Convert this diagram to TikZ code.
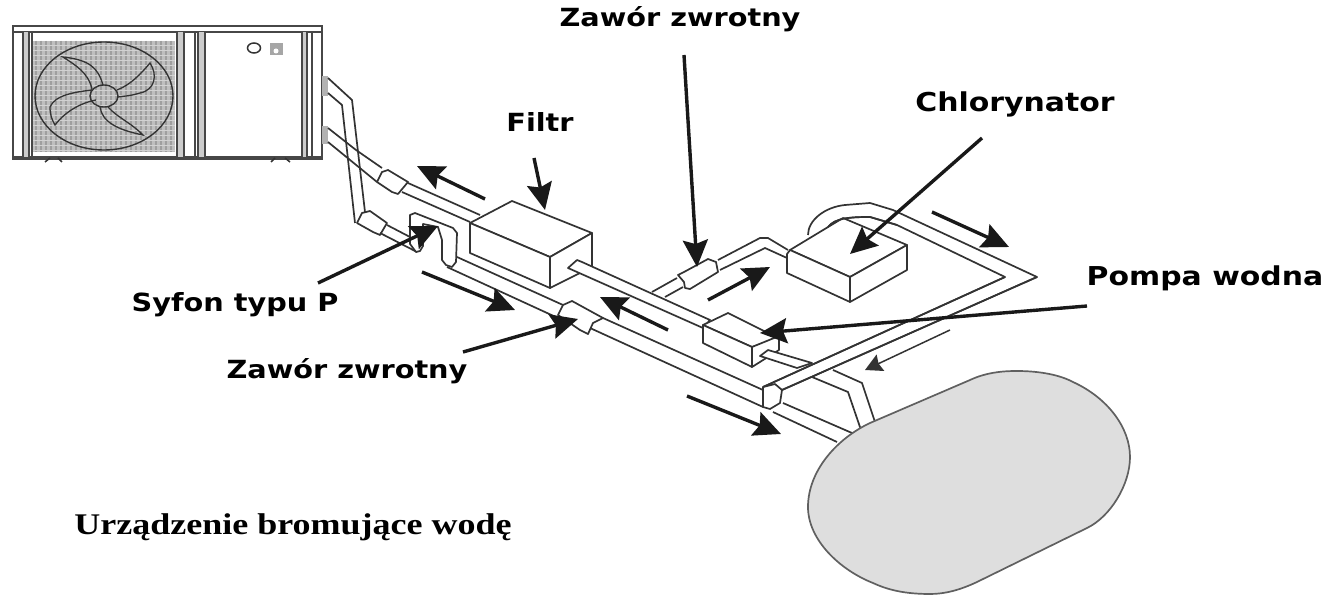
\documentclass[tikz,border=0pt]{standalone}
\usepackage{fontspec}
\usetikzlibrary{arrows.meta}
\newfontfamily\labfont[FakeStretch=1.15]{DejaVu Sans}
\newfontfamily\serfont[FakeStretch=1.2]{Liberation Serif}
\definecolor{ink}{HTML}{333333}
\tikzset{
  lab/.style={inner sep=0pt,text=black,font=\labfont\bfseries\fontsize{25}{27}\selectfont},
  labw/.style={inner sep=0pt,text=black,font=\labfont\bfseries\fontsize{26}{28}\selectfont},
  pipe/.style={draw=ink,line width=1.7pt,line join=round},
  fit0/.style={pipe,fill=white},
  unitline/.style={draw=ink!90,line width=1.7pt},
  leader/.style={draw=black!90,line width=3.4pt,-{Stealth[length=27pt,width=25pt,inset=4pt]}},
  thinleader/.style={draw=black!80,line width=1.5pt,-{Stealth[length=17pt,width=18pt,inset=2pt]}}
}
\begin{document}
\begin{tikzpicture}[x=1pt,y=-1pt]
\useasboundingbox (0,0) rectangle (1326,604);
% ---------- outdoor unit
\draw[unitline,fill=white] (13,26) rectangle (322,159);
\draw[unitline] (13,32)--(322,32);
\draw[unitline] (13,157)--(322,157);
\fill[gray!50] (33,41) rectangle (175,152);
\foreach \x in {36,41,...,175} \draw[gray!75,line width=1.2pt] (\x,41)--(\x,152);
\foreach \y in {45,50,...,150} \draw[gray!35,line width=.8pt] (33,\y)--(175,\y);
\fill[gray!40] (198,32) rectangle (205,157);
\fill[gray!40] (23,32) rectangle (29,157);
\fill[gray!40] (177,32) rectangle (184,157);
\fill[gray!40] (302,32) rectangle (307,157);
\foreach \x in {23,29,32,177,184,195,198,205,302,307,312} \draw[unitline] (\x,32)--(\x,158);
\draw[ink,line width=1.4pt] (104,96) ellipse (69 and 54);
\draw[ink,line width=1.4pt] (104,96) ellipse (14 and 11);
\draw[ink,line width=1.3pt]
  (103,85) .. controls (98,68) and (90,60) .. (63,57) .. controls (75,65) and (88,72) .. (92,89)
  (117,90) .. controls (130,85) and (140,75) .. (150,63) .. controls (158,75) and (155,90) .. (140,93) .. controls (130,96) and (125,96) .. (118,97)
  (100,107) .. controls (102,122) and (118,130) .. (143,135) .. controls (130,122) and (118,118) .. (108,107)
  (92,90) .. controls (75,92) and (55,95) .. (50,107) .. controls (50,115) and (52,120) .. (55,125) .. controls (65,112) and (80,103) .. (96,100);
\draw[ink,line width=1.5pt,fill=white] (254,48) ellipse (6.5 and 5);
\fill[gray!70] (270,43) rectangle (283,55);
\fill[white] (276,51) circle (2.5);
\draw[ink,line width=1.5pt] (45,162)--(50,158) (62,162)--(58,158) (271,162)--(275,158) (290,162)--(285,158);
% stubs on unit
\fill[gray!60] (322,76) rectangle (328,96);
\fill[gray!60] (322,126) rectangle (328,144);
% ---------- pipes: unit to lower valve
\draw[pipe] (328,78)--(352,100)--(365,212);
\draw[pipe] (328,93)--(342,105)--(355,223);
\draw[pipe] (328,128)--(356,150)--(382,168);
\draw[pipe] (328,142)--(377,182);
\draw[fit0] (357,223)--(362,213)--(370,211)--(387,223)--(380,235)--(373,232)--cycle;
\draw[fit0] (377,182)--(382,172)--(388,170)--(408,182)--(398,194)--(392,192)--cycle;
\draw[pipe] (408,183)--(480,215);
\draw[pipe] (402,192)--(470,222);
\draw[pipe] (387,225)--(410,237);
\draw[pipe] (380,233)--(417,252);
% P trap
\draw[fit0] (410,244)--(410,215)--(415,213)--(453,228)--(457,233)--(456,262)--(452,267)--(446,265)--(442,260)--(442,240)--(438,227)--(423,224)
  -- (423,246)--(420,251)--(416,252)--cycle;
% long pipes
\draw[pipe] (457,257)--(563,305);
\draw[pipe] (447,267)--(558,318);
\draw[pipe] (603,318)--(763,390);
\draw[pipe] (590,328)--(763,407);
\draw[pipe] (773,412)--(837,442);
\draw[pipe] (783,403)--(852,433);
\draw[fit0] (558,315)--(563,305)--(572,301)--(603,318)--(593,323)--(588,334)--(580,330)--cycle;
% Filter
\draw[fit0] (470,223)--(512,201)--(592,233)--(550,257)--cycle;
\draw[fit0] (470,223)--(470,253)--(550,288)--(550,257)--cycle;
\draw[fit0] (550,257)--(592,233)--(592,267)--(550,288)--cycle;
% filter to pump
\draw[fit0] (568,268)--(577,260)--(582,262)--(710,320)--(703,328)--cycle;
% branch to check valve, chlorinator
\draw[pipe] (652,292)--(677,278);
\draw[pipe] (665,297)--(683,287);
\draw[fit0] (678,275)--(684,272)--(708,259)--(716,262)--(718,272)--(690,289)--(685,288)--(684,282)--cycle;
\draw[pipe] (718,260)--(760,238)--(768,238)--(788,250);
\draw[pipe] (720,270)--(765,248)--(787,258);
% loop pipe
\draw[pipe] (808,235) .. controls (808,220) and (825,207) .. (845,205)--(870,203)--(893,210)--(1037,277)--(782,390);
\draw[pipe] (828,227) .. controls (835,218) and (850,217) .. (870,217)--(897,225)--(1005,277)--(763,387);
% Chlorinator
\draw[fit0] (790,250)--(843,218)--(907,245)--(850,277)--cycle;
\draw[fit0] (787,254)--(787,273)--(850,302)--(850,277)--(790,250)--cycle;
\draw[fit0] (850,277)--(907,245)--(907,270)--(850,302)--cycle;
% loop over chlorinator again (top)
\draw[pipe] (828,227) .. controls (835,218) and (850,217) .. (870,217)--(897,225);
% Pump
\draw[fit0] (703,325)--(728,313)--(778,338)--(752,347)--cycle;
\draw[fit0] (703,325)--(703,343)--(752,367)--(752,347)--cycle;
\draw[fit0] (752,347)--(779,336)--(779,350)--(752,367)--cycle;
\draw[fit0] (760,356)--(768,350)--(812,363)--(797,368)--cycle;
\draw[pipe] (812,377)--(848,392)--(861,430);
\draw[pipe] (833,370)--(862,383)--(875,422);
% Elbow
\draw[fit0] (763,387)--(763,407)--(770,409)--(780,403)--(782,390)--(775,384)--cycle;
\draw[pipe] (763,387)--(1005,277);
\draw[pipe] (782,390)--(1037,277);
% Tank
\draw[draw=gray!75!black,line width=1.7pt,fill=gray!26]
  (870,423)--(970,380) .. controls (985,373) and (1000,371) .. (1017,371)
  .. controls (1040,371) and (1060,375) .. (1073,382)
  .. controls (1108,398) and (1130,428) .. (1130,457)
  .. controls (1130,485) and (1110,517) .. (1087,528)
  --(977,582) .. controls (960,590) and (945,594) .. (930,594)
  .. controls (905,594) and (888,590) .. (873,583)
  .. controls (840,570) and (808,540) .. (808,507)
  .. controls (808,470) and (838,438) .. (870,423) -- cycle;
% ---------- labels
\node[lab] (zt) at (680,19) {Zawór zwrotny};
\node[lab] (fl) at (540,122) {Filtr};
\node[labw] (ch) at (1015,104) {Chlorynator};
\node[labw] (po) at (1205,278) {Pompa wodna};
\node[lab] (sy) at (235,305) {Syfon typu P};
\node[lab] (zb) at (347,371) {Zawór zwrotny};
\node[inner sep=0pt,font=\serfont\bfseries\fontsize{30}{32}\selectfont] (ur) at (293,527) {Urządzenie bromujące wodę};
% ---------- leaders
\coordinate (zta) at (684,55); \coordinate (ztb) at (697,267);
\coordinate (fla) at (534,158); \coordinate (flb) at (545,210);
\coordinate (cha) at (982,138); \coordinate (chb) at (850,254);
\coordinate (poa) at (1087,306); \coordinate (pob) at (760,333);
\coordinate (sya) at (318,283); \coordinate (syb) at (438,226);
\coordinate (zba) at (463,352); \coordinate (zbb) at (578,319);
\draw[leader] (zta)--(ztb);
\draw[leader] (fla)--(flb);
\draw[leader] (cha)--(chb);
\draw[leader] (poa)--(pob);
\draw[leader] (sya)--(syb);
\draw[leader] (zba)--(zbb);
% ---------- flow arrows
\coordinate (f1a) at (485,199); \coordinate (f1b) at (417,166);
\coordinate (f2a) at (422,272); \coordinate (f2b) at (515,310);
\coordinate (f3a) at (708,300); \coordinate (f3b) at (770,267);
\coordinate (f4a) at (932,212); \coordinate (f4b) at (1009,247);
\coordinate (f5a) at (687,396); \coordinate (f5b) at (781,434);
\coordinate (f6a) at (668,330); \coordinate (f6b) at (600,297);
\coordinate (f7a) at (950,330); \coordinate (f7b) at (865,370);
\foreach \p in {1,...,6} \draw[leader] (f\p a)--(f\p b);
\draw[thinleader] (f7a)--(f7b);
\end{tikzpicture}
\end{document}
